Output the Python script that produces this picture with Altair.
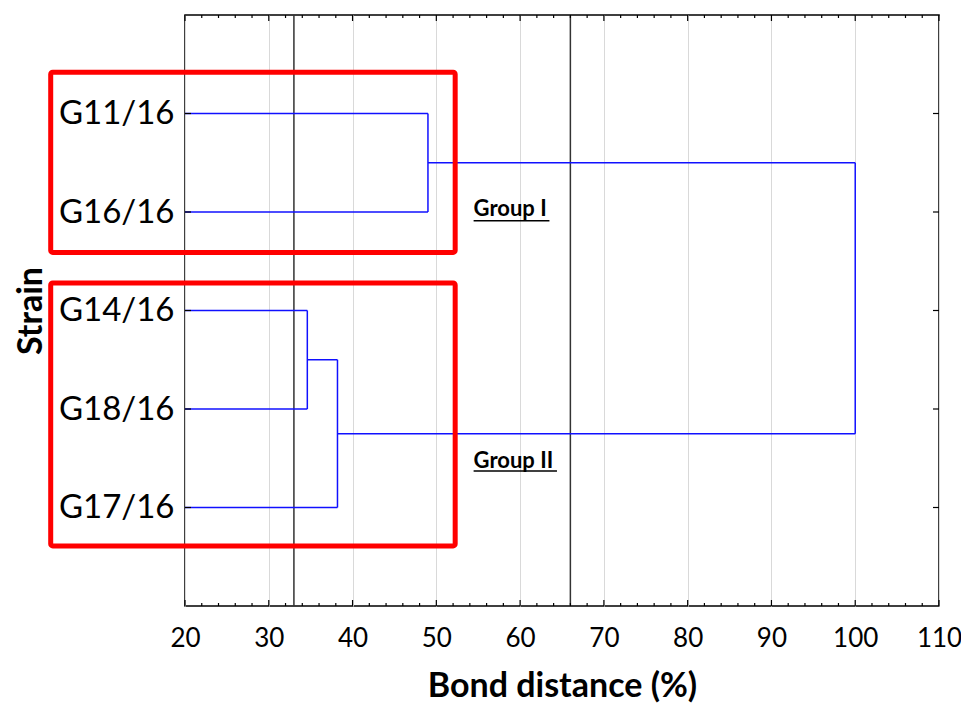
import altair as alt
import pandas as pd

# ---------------- data ----------------
strains = ["G11/16", "G16/16", "G14/16", "G18/16", "G17/16"]
# linkage: nodes 0-4 are leaves (in plotted order), merged nodes get ids 5, 6, ...
merge_left = [0, 2, 6, 5]
merge_right = [1, 3, 4, 7]
merge_height = [49.0, 34.6, 38.2, 100.0]

x_major = [20, 30, 40, 50, 60, 70, 80, 90, 100, 110]
x_minor = [22, 24, 26, 28, 32, 34, 36, 38, 42, 44, 46, 48, 52, 54, 56, 58,
           62, 64, 66, 68, 72, 74, 76, 78, 82, 84, 86, 88, 92, 94, 96, 98,
           102, 104, 106, 108]
cut_lines = [33, 66]

group_names = ["Group I", "Group II"]
group_label_x = [54.45, 54.45]
group_label_x_end = [63.5, 64.4]
group_label_y = [2.04, 4.60]
group_underline_y = [2.09, 4.63]

box_x = [3.97, 3.97]
box_x2 = [52.25, 52.25]
box_y = [0.58, 2.72]
box_y2 = [2.41, 5.39]

X_MIN, X_MAX = 20, 110
Y_MIN, Y_MAX = 0, 6
W, H = 754, 591

# ---------------- build tables ----------------
pos = {i: i + 1 for i in range(len(strains))}
hgt = {i: X_MIN for i in range(len(strains))}
segs = []
for k, (a, b, h) in enumerate(zip(merge_left, merge_right, merge_height)):
    node = len(strains) + k
    segs.append(dict(x=hgt[a], x2=h, y=pos[a], y2=pos[a]))
    segs.append(dict(x=hgt[b], x2=h, y=pos[b], y2=pos[b]))
    segs.append(dict(x=h, x2=h, y=pos[a], y2=pos[b]))
    pos[node] = (pos[a] + pos[b]) / 2
    hgt[node] = h
seg_df = pd.DataFrame(segs)

strain_pos = list(range(1, len(strains) + 1))
ytick_df = pd.DataFrame({"y": strain_pos})
major_df = pd.DataFrame({"x": x_major})
minor_df = pd.DataFrame({"x": x_minor})
cut_df = pd.DataFrame({"x": cut_lines})
group_df = pd.DataFrame({
    "name": group_names, "x": group_label_x, "x2": group_label_x_end,
    "y": group_label_y, "yu": group_underline_y,
})
box_df = pd.DataFrame({"x": box_x, "x2": box_x2, "y": box_y, "y2": box_y2})

xs = alt.Scale(domain=[X_MIN, X_MAX], nice=False, zero=False)
ys = alt.Scale(domain=[Y_MIN, Y_MAX], reverse=True, nice=False, zero=False)

label_array = "[" + ",".join("'" + s + "'" for s in strains) + "]"

x_axis = alt.Axis(
    values=x_major, title="Bond distance (%)", grid=True,
    gridColor="#d9d9d9", gridWidth=1, ticks=False, domain=False,
    labelFont="Lato", labelFontSize=26, labelColor="black",
    labelPadding=19, labelFlush=False,
    titleFont="Lato", titleFontSize=34, titleFontWeight="bold",
    titleColor="black", titleBaseline="alphabetic", titleY=90)
y_axis = alt.Axis(
    values=strain_pos, labelExpr=label_array + "[datum.value - 1]",
    title="Strain", grid=False, ticks=False, domain=False,
    labelFont="Lato", labelFontSize=33, labelColor="black",
    labelPadding=11,
    titleFont="Lato", titleFontSize=34, titleFontWeight="bold",
    titleColor="black", titleAngle=270, titleBaseline="alphabetic",
    titleAlign="center", titleX=-144, titleY=H / 2)


def X(f):
    return alt.X(f, type="quantitative", scale=xs, axis=x_axis)


def Y(f):
    return alt.Y(f, type="quantitative", scale=ys, axis=y_axis)


cuts = alt.Chart(cut_df).mark_rule(color="#333333", strokeWidth=1.5).encode(
    x=X("x"))

dendro = alt.Chart(seg_df).mark_rule(color="#1010ff", strokeWidth=1.5).encode(
    x=X("x"), x2="x2", y=Y("y"), y2="y2")

boxes = alt.Chart(box_df).mark_rect(
    fill=None, fillOpacity=0, stroke="#ff0000", strokeWidth=5,
    cornerRadius=2, clip=False).encode(
    x=X("x"), x2="x2", y=Y("y"), y2="y2")

texts = alt.Chart(group_df).mark_text(
    align="left", baseline="alphabetic", font="Lato", fontWeight="bold",
    fontSize=22, color="black").encode(
    x=X("x"), y=Y("y"), text="name:N")

underl = alt.Chart(group_df).mark_rule(color="black", strokeWidth=1.5).encode(
    x=X("x"), x2="x2", y=Y("yu"))

tick_bottom = alt.Chart(major_df).mark_rule(color="black", strokeWidth=1.2).encode(
    x=X("x"), y=alt.value(H), y2=alt.value(H - 6))
tick_top = alt.Chart(major_df).mark_rule(color="black", strokeWidth=1.2).encode(
    x=X("x"), y=alt.value(0), y2=alt.value(6))
mtick_bottom = alt.Chart(minor_df).mark_rule(color="black", strokeWidth=1.2).encode(
    x=X("x"), y=alt.value(H), y2=alt.value(H - 3))
mtick_top = alt.Chart(minor_df).mark_rule(color="black", strokeWidth=1.2).encode(
    x=X("x"), y=alt.value(0), y2=alt.value(3))
tick_left = alt.Chart(ytick_df).mark_rule(color="black", strokeWidth=1.2).encode(
    y=Y("y"), x=alt.value(0), x2=alt.value(6))
tick_right = alt.Chart(ytick_df).mark_rule(color="black", strokeWidth=1.2).encode(
    y=Y("y"), x=alt.value(W), x2=alt.value(W - 6))

chart = alt.layer(
    cuts, dendro, boxes, texts, underl,
    tick_bottom, tick_top, mtick_bottom, mtick_top, tick_left, tick_right,
).properties(
    width=W, height=H,
    background="white",
    autosize=alt.AutoSizeParams(type="none"),
    padding={"left": 177, "top": 7, "right": 22, "bottom": 97},
).configure_view(
    stroke="black", strokeWidth=1.5
)

chart.save("out.html", embed_options={"renderer": "svg", "actions": False})
